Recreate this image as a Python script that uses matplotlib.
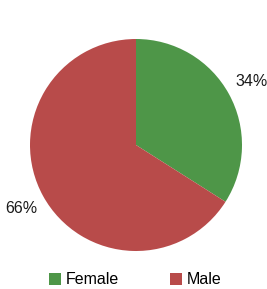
import matplotlib.pyplot as plt
from matplotlib.patches import Patch

plt.rcParams['font.family'] = ['Liberation Sans', 'DejaVu Sans']

labels = ["Female", "Male"]
values = [34, 66]
colors = ["#4e9648", "#b84b4a"]

W, H = 267, 289
fig = plt.figure(figsize=(W / 100, H / 100), dpi=100)

# pie centre ~(136,145) px, radius ~106 px
ax = fig.add_axes([30 / W, 38 / H, 212 / W, 212 / H])
ax.pie(values, colors=colors, startangle=90, counterclock=False,
       autopct='%d%%', pctdistance=1.24, radius=1,
       textprops={'fontsize': 11.5, 'color': '#1a1a1a'})
ax.set_xlim(-1, 1)
ax.set_ylim(-1, 1)
ax.set_aspect('equal')
ax.axis('off')

handles = [Patch(facecolor=c, label=l) for c, l in zip(colors, labels)]
fig.legend(handles=handles, loc='center', bbox_to_anchor=(135 / W, 9 / H),
           ncol=2, frameon=False, fontsize=11.5, handlelength=0.75,
           handleheight=0.75, handletextpad=0.3, columnspacing=3.2,
           borderpad=0, borderaxespad=0)

fig.savefig("out.png", dpi=100)
